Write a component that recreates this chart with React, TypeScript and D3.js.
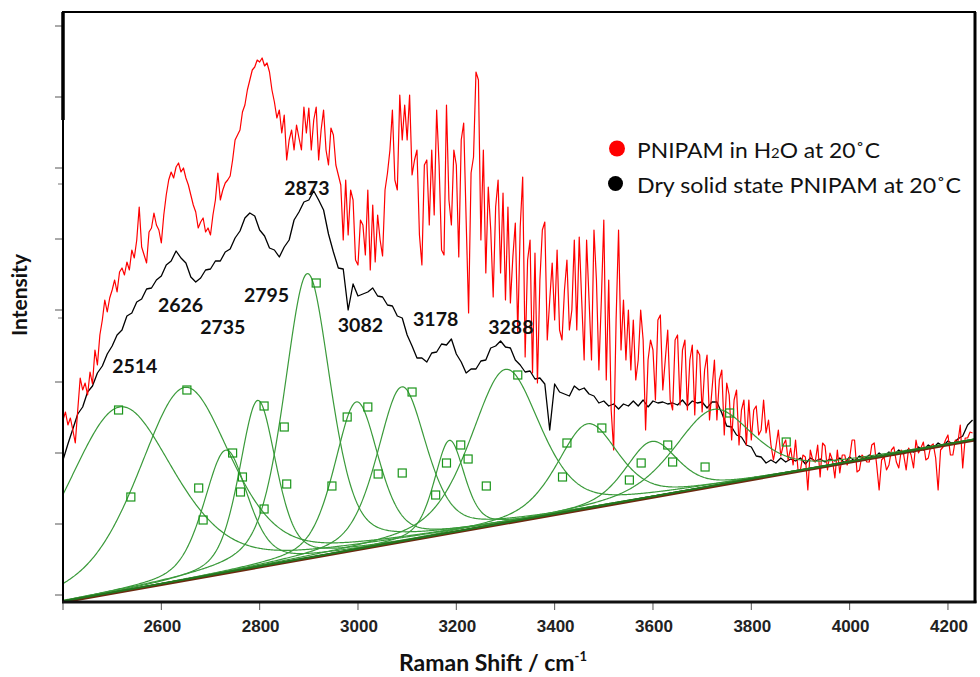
import React from "react";
import * as d3 from "d3";

// Raman shift grids of the measured spectra (cm-1)
const redShift = d3.range(2400, 4251, 5);
const blackShift = d3.range(2400, 4251, 10);

// PNIPAM in H2O at 20 C (arbitrary intensity units), 5 cm-1 steps
const redIntensity = [
  182, 190, 177, 184, 172, 159, 192, 224, 212, 219,
  207, 230, 218, 252, 237, 267, 282, 302, 290, 304,
  312, 322, 310, 330, 334, 327, 340, 332, 352, 344,
  362, 395, 355, 347, 339, 370, 374, 389, 377, 372,
  359, 387, 407, 422, 430, 424, 435, 439, 430, 434,
  424, 417, 407, 397, 390, 374, 380, 384, 370, 374,
  367, 387, 402, 429, 402, 412, 419, 422, 426, 442,
  462, 467, 472, 490, 497, 512, 522, 532, 535, 542,
  540, 544, 536, 539, 530, 512, 500, 484, 492, 469,
  487, 442, 462, 472, 452, 477, 464, 452, 495, 469,
  494, 452, 482, 495, 442, 472, 492, 452, 437, 474,
  467, 437, 427, 417, 362, 422, 367, 412, 402, 342,
  337, 382, 377, 347, 412, 332, 397, 340, 387, 362,
  346, 412, 429, 452, 492, 422, 412, 507, 462, 497,
  462, 507, 427, 442, 452, 367, 337, 437, 442, 377,
  452, 387, 492, 437, 352, 347, 497, 402, 377, 452,
  437, 345, 462, 479, 382, 289, 429, 445, 530, 522,
  362, 452, 329, 415, 372, 305, 395, 422, 329, 409,
  302, 395, 299, 345, 379, 269, 375, 425, 245, 342,
  362, 229, 349, 219, 322, 372, 380, 262, 302, 339,
  282, 352, 272, 262, 312, 342, 272, 292, 362, 272,
  365, 302, 242, 362, 302, 242, 372, 322, 232, 302,
  382, 222, 322, 192, 152, 282, 372, 252, 302, 242,
  292, 232, 282, 222, 242, 292, 262, 172, 242, 262,
  252, 202, 282, 287, 212, 242, 272, 202, 192, 262,
  267, 197, 252, 262, 192, 242, 257, 187, 252, 247,
  190, 232, 247, 182, 212, 242, 182, 222, 232, 167,
  219, 207, 162, 202, 212, 157, 192, 202, 157, 202,
  162, 192, 196, 167, 172, 202, 169, 182, 157, 142,
  155, 172, 146, 157, 162, 142, 154, 137, 162, 132,
  132, 147, 145, 112, 152, 142, 140, 157, 125, 159,
  156, 132, 149, 142, 124, 152, 129, 147, 147, 137,
  144, 162, 162, 130, 132, 147, 144, 140, 140, 157,
  159, 137, 112, 142, 145, 132, 137, 152, 155, 140,
  134, 152, 147, 132, 154, 147, 134, 162, 149, 154,
  160, 142, 144, 156, 158, 144, 112, 152, 155, 162,
  167, 147, 147, 162, 159, 177, 134, 164, 164, 170,
  169,
];

// Dry solid state PNIPAM at 20 C, 10 cm-1 steps
const blackIntensity = [
  142, 158, 173, 188, 195, 210, 216, 229, 236, 248,
  256, 267, 272, 286, 289, 300, 303, 313, 314, 322,
  326, 337, 341, 351, 344, 339, 325, 320, 324, 332,
  333, 341, 341, 350, 353, 364, 371, 384, 389, 386,
  372, 366, 354, 352, 345, 355, 362, 382, 390, 400,
  402, 411, 402, 392, 368, 350, 334, 333, 292, 318,
  306, 308, 310, 314, 306, 305, 297, 296, 286, 284,
  267, 256, 244, 244, 240, 249, 250, 258, 257, 263,
  248, 240, 229, 233, 233, 241, 242, 254, 256, 261,
  255, 254, 242, 237, 230, 231, 223, 224, 218, 172,
  218, 210, 208, 206, 216, 212, 214, 208, 206, 199,
  201, 196, 198, 193, 198, 196, 201, 196, 202, 195,
  201, 199, 200, 198, 199, 197, 202, 196, 201, 199,
  200, 194, 200, 200, 189, 176, 175, 167, 165, 157,
  155, 146, 145, 139, 142, 139, 144, 140, 143, 141,
  144, 138, 144, 141, 143, 140, 143, 141, 144, 139,
  145, 141, 146, 143, 147, 144, 149, 145, 150, 147,
  152, 148, 153, 150, 155, 152, 157, 154, 159, 156,
  161, 158, 163, 166, 177, 182,
];

// Fitted peak components (on a linear baseline)
const peakCenters = [2515, 2647, 2731, 2796, 2897, 2997, 3089, 3186, 3300, 3467, 3597, 3723];
const peakHeights = [185, 193, 123, 167, 285, 148, 155, 93, 154, 85, 56, 77];
const peakFwhm = [264, 224, 106, 89, 112, 106, 118, 73, 167, 146, 126, 187];
const lorentzFraction = 0.45;

const baselineShift = [2400, 4255];
const baselineIntensity = [0, 162];

// Fit handle markers
const markerShift = [
  2513, 2538, 2652, 2676, 2685, 2745, 2765, 2761, 2809, 2809, 2850, 2855,
  2915, 2947, 2978, 3020, 3041, 3090, 3110, 3158, 3180, 3209, 3224, 3261,
  3325, 3416, 3425, 3496, 3552, 3576, 3630, 3640, 3706, 3756, 3871,
];
const markerIntensity = [
  192, 105, 212, 114, 82, 149, 125, 110, 196, 93, 175, 118,
  319, 116, 185, 195, 128, 129, 210, 107, 139, 157, 143, 116,
  227, 125, 159, 174, 122, 139, 157, 140, 135, 189, 160,
];

// Peak annotations
const peakLabels = ["2514", "2626", "2735", "2795", "2873", "3082", "3178", "3288"];
const peakLabelShift = [2546, 2639, 2725, 2814, 2896, 3005, 3158, 3311];
const peakLabelIntensity = [236, 297, 275, 307, 414, 277, 283, 275];

const xTickValues = [2400, 2600, 2800, 3000, 3200, 3400, 3600, 3800, 4000, 4200];
const yTickValues = [7, 78, 149, 220, 292, 363, 434, 505, 576];
const yMinorTickValues = [284, 418];

const legendLabels = ["PNIPAM in H", "Dry solid state PNIPAM at 20\u02DAC"];

export default function App() {
  const W = 980;
  const H = 677;
  const left = 63, right = 975, top = 12, bottom = 602;
  const x = d3.scaleLinear().domain([2400, 4255]).range([left, right]);
  const y = d3.scaleLinear().domain([0, 590]).range([bottom, top]);

  const baseline = (v: number) =>
    baselineIntensity[0] +
    ((baselineIntensity[1] - baselineIntensity[0]) * (v - baselineShift[0])) /
      (baselineShift[1] - baselineShift[0]);

  const line = d3
    .line<[number, number]>()
    .x((d) => x(d[0]))
    .y((d) => y(d[1]));

  const redPath = line(redShift.map((v, i) => [v, redIntensity[i]] as [number, number]));
  const blackPath = line(blackShift.map((v, i) => [v, blackIntensity[i]] as [number, number]));

  const fine = d3.range(2400, 4256, 2);
  const pv = (v: number, c: number, h: number, f: number) => {
    const u = (v - c) / f;
    const g = Math.exp(-4 * Math.LN2 * u * u);
    const l = 1 / (1 + 4 * u * u);
    return h * (lorentzFraction * l + (1 - lorentzFraction) * g);
  };
  const compPaths = peakCenters.map((c, i) =>
    line(fine.map((v) => [v, baseline(v) + pv(v, c, peakHeights[i], peakFwhm[i])] as [number, number]))
  );

  const green = "#3a9a3a";

  return (
    <svg
      width={W}
      height={H}
      style={{ position: "absolute", left: 0, top: 0, background: "#fff" }}
      fontFamily="Lato, 'Open Sans', sans-serif"
    >
      <defs>
        <clipPath id="plotClip">
          <rect x={left} y={top} width={right - left} height={bottom - top} />
        </clipPath>
      </defs>
      <rect x={0} y={0} width={W} height={H} fill="#fff" />

      {/* y ticks */}
      {yTickValues.map((t, i) => (
        <line key={"yt" + i} x1={left - 8} x2={left} y1={y(t)} y2={y(t)} stroke="#555" strokeWidth={1} />
      ))}
      {yMinorTickValues.map((t, i) => (
        <line key={"ym" + i} x1={left - 5} x2={left} y1={y(t)} y2={y(t)} stroke="#777" strokeWidth={1} />
      ))}

      {/* x ticks and labels */}
      {xTickValues.map((t, i) => (
        <g key={"xt" + i}>
          <line x1={x(t)} x2={x(t)} y1={bottom} y2={bottom + 8} stroke="#555" strokeWidth={1} />
          {t >= 2600 && (
            <text
              x={x(t) + 1}
              y={631.5}
              textAnchor="middle"
              fontFamily="'Liberation Sans', Arial, sans-serif"
              fontWeight="bold"
              fontSize={17}
              fill="#222"
            >
              {t}
            </text>
          )}
        </g>
      ))}

      <g clipPath="url(#plotClip)">
        <path d={blackPath || ""} fill="none" stroke="#000" strokeWidth={1.3} strokeLinejoin="round" />
        <path d={redPath || ""} fill="none" stroke="#ff0000" strokeWidth={1.2} strokeLinejoin="round" />
        {compPaths.map((p, i) => (
          <path key={"c" + i} d={p || ""} fill="none" stroke={green} strokeWidth={1.2} />
        ))}
        <line
          x1={x(baselineShift[0])}
          x2={x(baselineShift[1])}
          y1={y(baselineIntensity[0])}
          y2={y(baselineIntensity[1])}
          stroke="#6b2a10"
          strokeWidth={3}
        />
        <line
          x1={x(baselineShift[0])}
          x2={x(baselineShift[1])}
          y1={y(baselineIntensity[0]) - 0.8}
          y2={y(baselineIntensity[1]) - 0.8}
          stroke="#1f7a1f"
          strokeWidth={1.8}
        />
        {markerShift.map((m, i) => (
          <rect
            key={"m" + i}
            x={x(m) - 4}
            y={y(markerIntensity[i]) - 4}
            width={8}
            height={8}
            fill="none"
            stroke="#1a951a"
            strokeWidth={1.2}
          />
        ))}
      </g>

      {/* frame */}
      <rect x={left} y={top} width={right - left} height={bottom - top} fill="none" stroke="#000" strokeWidth={2} />
      <line x1={left} x2={left} y1={top} y2={120} stroke="#000" strokeWidth={3.5} />
      <line x1={left - 1} x2={right + 1.5} y1={bottom} y2={bottom} stroke="#111" strokeWidth={3} />
      <line x1={right} x2={right} y1={top} y2={bottom + 1} stroke="#000" strokeWidth={3} />

      {/* peak labels */}
      {peakLabels.map((s, i) => (
        <text
          key={"pl" + i}
          x={x(peakLabelShift[i])}
          y={y(peakLabelIntensity[i]) + 7}
          textAnchor="middle"
          fontWeight="bold"
          fontSize={19.5}
          fill="#111"
        >
          {s}
        </text>
      ))}

      {/* legend */}
      <circle cx={617} cy={148.5} r={8} fill="#ff0000" />
      <circle cx={615.5} cy={183.5} r={7.5} fill="#000" />
      <text x={637} y={158.3} fontSize={21.5} fill="#111" textLength={243} lengthAdjust="spacingAndGlyphs">
        {legendLabels[0]}
        <tspan fontSize={14}>2</tspan>
        <tspan>O at 20{"\u02DA"}C</tspan>
      </text>
      <text x={637} y={192.7} fontSize={21.5} fill="#111" textLength={324} lengthAdjust="spacingAndGlyphs">
        {legendLabels[1]}
      </text>

      {/* axis titles */}
      <text x={399} y={671} fontWeight="bold" fontSize={23} fill="#111">
        Raman Shift / cm
        <tspan fontSize={13} dy={-10}>-1</tspan>
      </text>
      <text
        transform="translate(27,295) rotate(-90)"
        textAnchor="middle"
        fontWeight="bold"
        fontSize={21}
        fill="#111"
      >
        Intensity
      </text>
    </svg>
  );
}
